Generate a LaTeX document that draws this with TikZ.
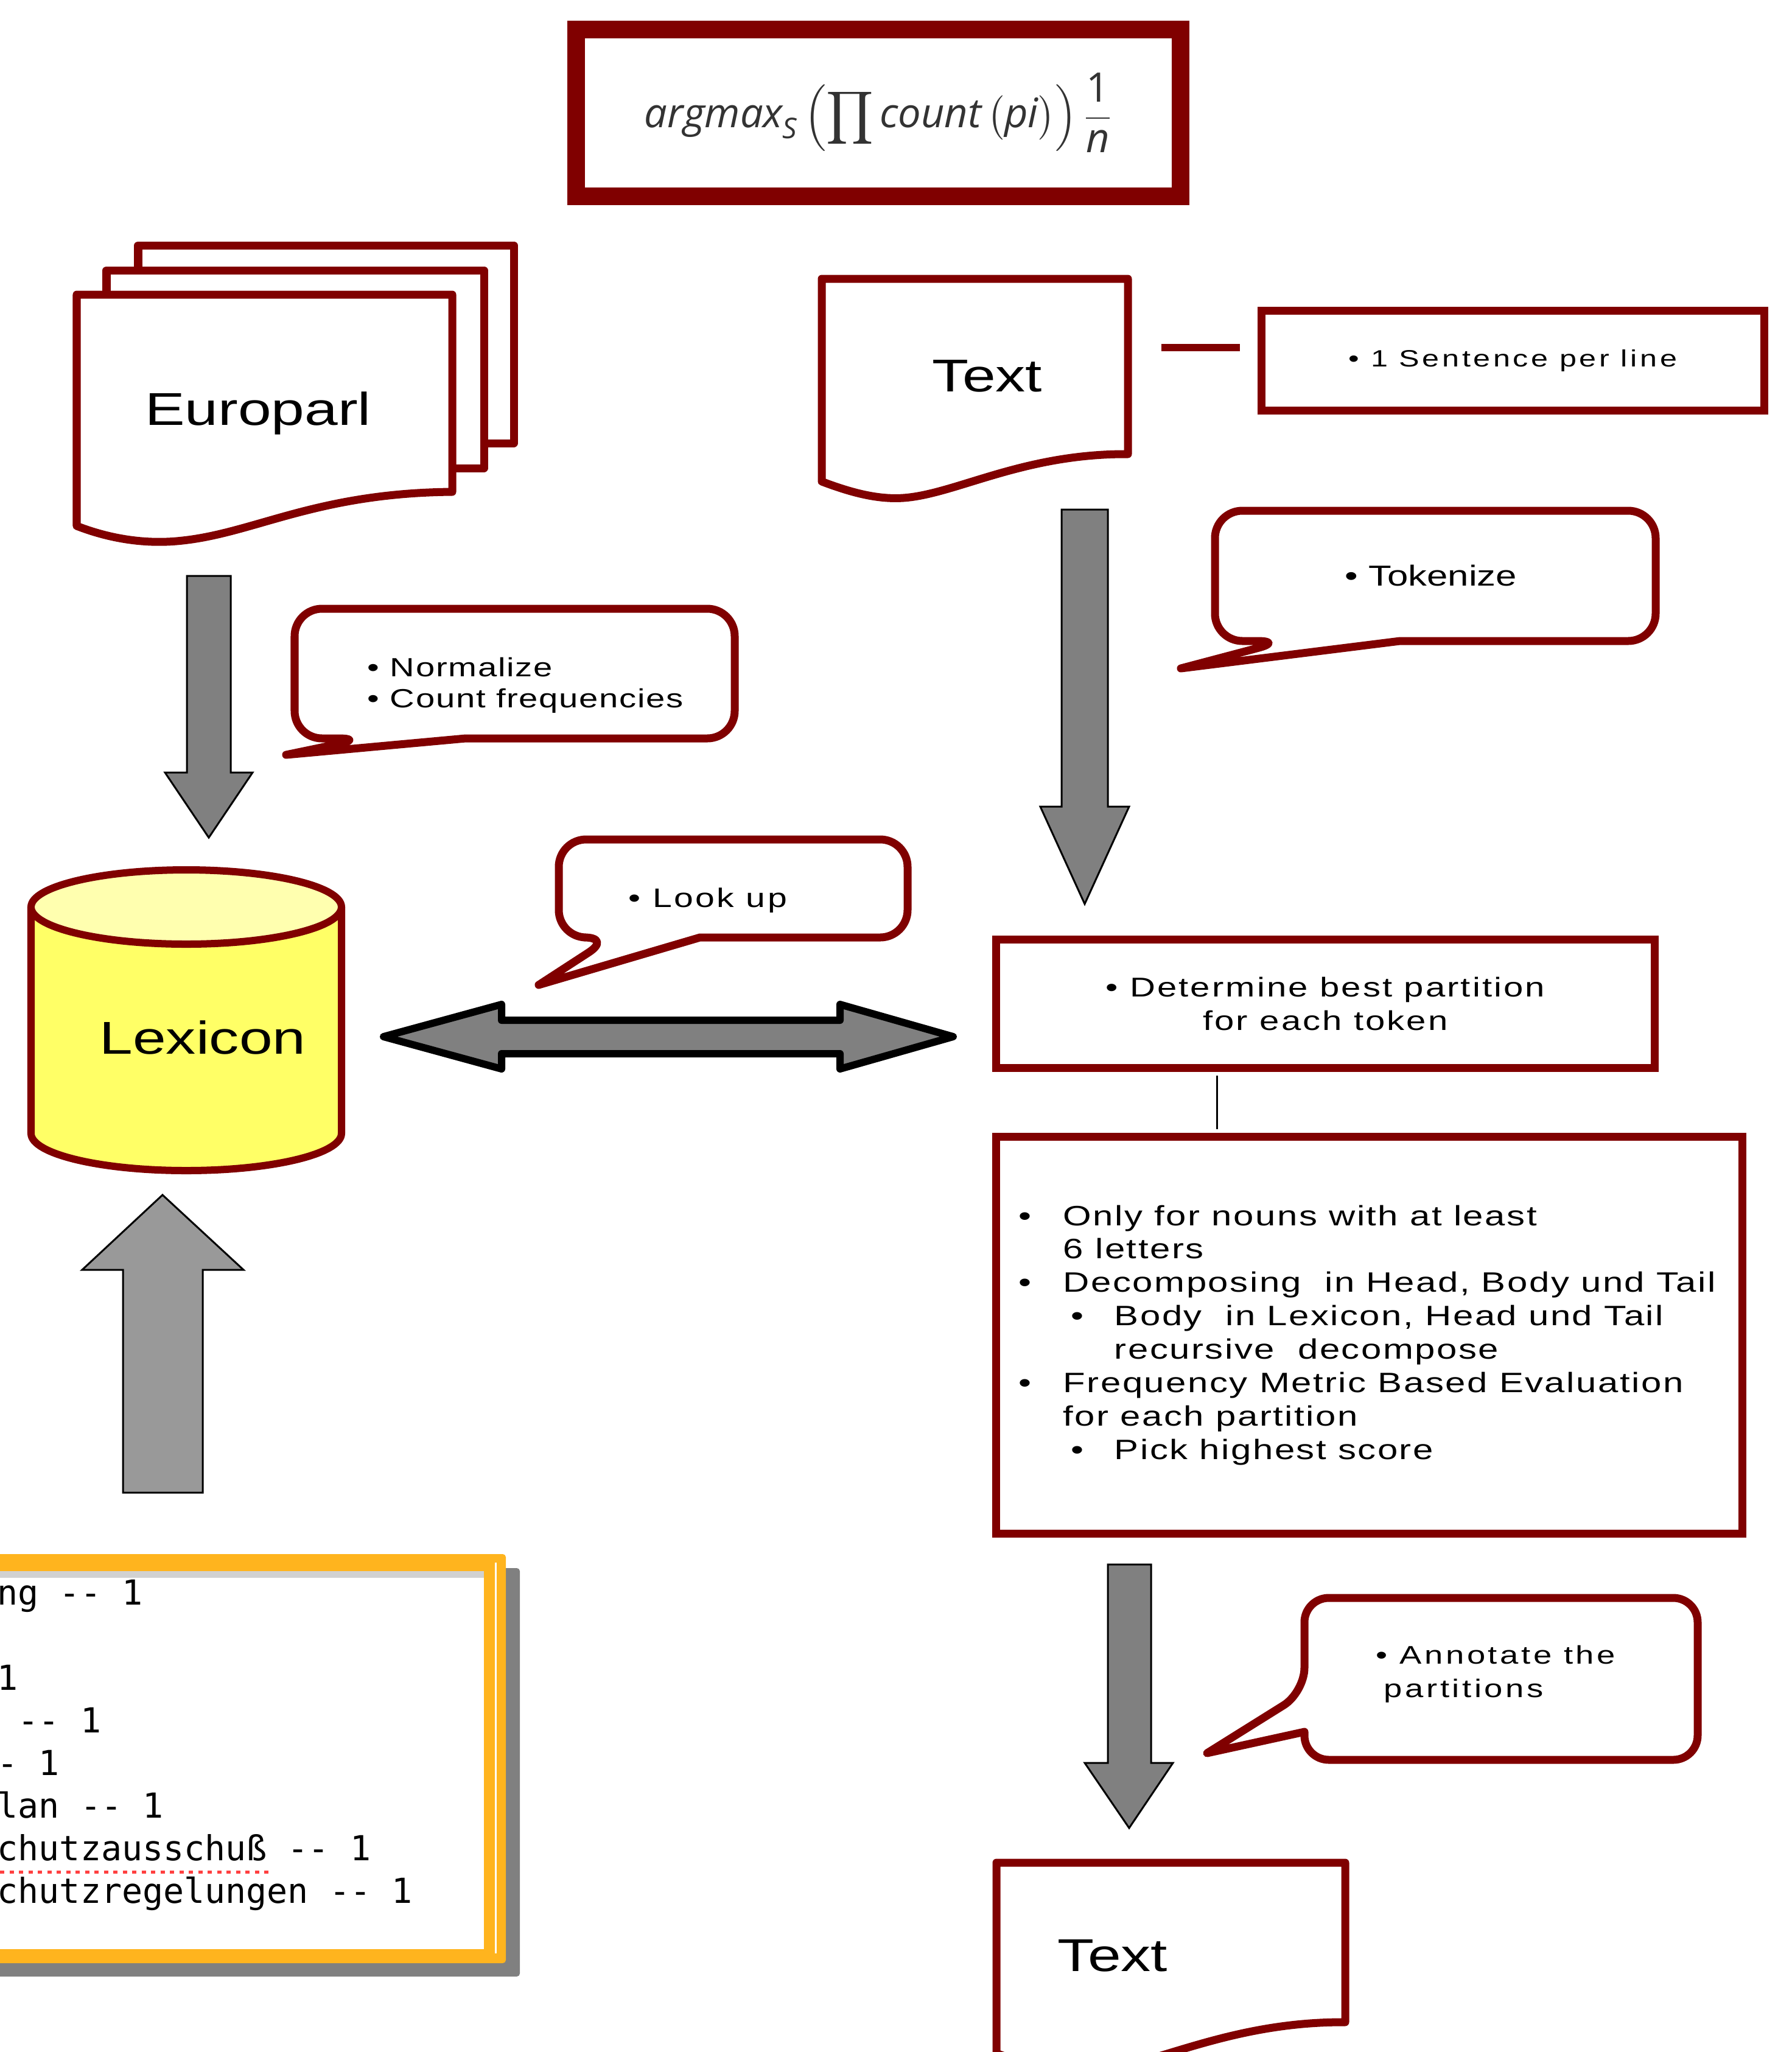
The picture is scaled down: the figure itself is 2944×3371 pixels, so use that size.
\documentclass[tikz,border=0pt]{standalone}
\usepackage{amsmath}
\usepackage{fontspec}
\usepackage{tikz}
\usetikzlibrary{calc}

\newfontfamily\labelfont{Liberation Sans}[FakeStretch=1.3]
\newfontfamily\notefont{Liberation Sans}[FakeStretch=1.3]
\newfontfamily\formulafont{Open Sans}
\setmonofont{DejaVu Sans Mono}

\definecolor{maroon}{RGB}{128,0,0}
\definecolor{arrowgray}{RGB}{128,128,128}
\definecolor{lightarrow}{RGB}{153,153,153}
\definecolor{lexyellow}{RGB}{255,255,102}
\definecolor{lextop}{RGB}{255,255,175}
\definecolor{frameorange}{RGB}{255,180,30}

% bullets for the rule list
\newcommand{\bul}{\makebox[0.73cm][l]{\textbullet}}
\newcommand{\subbul}{\hspace*{0.86cm}\makebox[0.71cm][l]{\textbullet}}

\begin{document}
\begin{tikzpicture}[
    x=0.01cm, y=-0.01cm,
    redline/.style={draw=maroon, line width=0.13cm, line join=round, fill=white},
    procbox/.style={draw=maroon, line width=0.13cm, fill=white, inner sep=0pt},
    bubble/.style={draw=maroon, line width=0.13cm, line join=round, fill=white},
    blockarrow/.style={draw=black, line width=0.03cm, fill=arrowgray},
    doclabel/.style={font=\labelfont\fontsize{21.5}{26}\selectfont, inner sep=0pt, anchor=base},
    note/.style={inner sep=0pt, anchor=base west, align=left}
  ]
  \useasboundingbox (0,0) rectangle (2944,3371);

  % scoring formula
  \node[procbox, line width=0.29cm, minimum width=9.93cm, minimum height=2.74cm,
        text=black!80, font=\formulafont\fontsize{19}{22}\selectfont] (formula) at (1443,185.5)
    {$\displaystyle \text{\itshape argmax}_{\text{\itshape S}}\left(\prod \text{\itshape count}\left(\text{\itshape pi}\right)\right)\frac{\text{1}}{\text{\itshape n}}$};

  % Europarl corpus (stack of pages)
  \draw[redline] (227,403) rectangle (844,728);
  \draw[redline] (175,444) rectangle (795,769);
  \draw[redline] (126,484) -- (743,484) -- (743,808)
      .. controls (520,810) and (420,875) .. (300,888)
      .. controls (240,895) and (180,885) .. (126,864) -- cycle;
  \node[doclabel] (europarl) at (424,698) {Europarl};

  % input text
  \draw[redline] (1350,458) -- (1853,458) -- (1853,746)
      .. controls (1680,745) and (1570,812) .. (1484,818)
      .. controls (1440,821) and (1395,808) .. (1350,791) -- cycle;
  \node[doclabel] (textin) at (1622,643) {Text};

  \node[procbox, minimum width=8.25cm, minimum height=1.63cm,
        font=\notefont\fontsize{11}{13}\selectfont\addfontfeatures{LetterSpace=12}] (sentence) at (2485.5,592.5)
    {\textbullet\ 1 Sentence per line};
  \coordinate (dashL) at (1908,571);
  \coordinate (dashR) at (2037,571);
  \draw[maroon, line width=0.12cm] (dashL) -- (dashR);

  % callouts (last line of each text sits on the node's base)
  \draw[bubble] (765,1213) [rounded corners=0.45cm] -- (1207,1213) -- (1207,1000) -- (484,1000)
      -- (484,1213) -- (600,1213) [sharp corners] -- (470,1240) -- cycle;
  \node[note, font=\notefont\fontsize{12.3}{14.5}\selectfont\addfontfeatures{LetterSpace=4}] (normalize) at (603,1162)
    {\textbullet\ Normalize\\\textbullet\ Count frequencies};

  \draw[bubble] (2300,1053) [rounded corners=0.45cm] -- (2720,1053) -- (2720,839) -- (1996,839)
      -- (1996,1053) -- (2110,1053) [sharp corners] -- (1940,1098) -- cycle;
  \node[note, font=\notefont\fontsize{13.5}{16}\selectfont] (tokenize) at (2209,962) {\textbullet\ Tokenize};

  \draw[bubble] (1150,1540) [rounded corners=0.45cm] -- (1491,1540) -- (1491,1379) -- (918,1379)
      -- (918,1540) -- (1005,1540) [sharp corners] -- (885,1618) -- cycle;
  \node[note, font=\notefont\fontsize{12.5}{15}\selectfont\addfontfeatures{LetterSpace=8}] (lookup) at (1032,1490) {\textbullet\ Look up};

  \draw[bubble] (2143,2845) [rounded corners=0.4cm] -- (2143,2891) -- (2789,2891) -- (2789,2625)
      -- (2143,2625) -- (2143,2780) [sharp corners] -- (1983,2880) -- cycle;
  \node[note, font=\notefont\fontsize{11.9}{15.4}\selectfont\addfontfeatures{LetterSpace=11}] (annotate) at (2260,2788)
    {\textbullet\ Annotate the\\\hspace*{0.13cm}partitions};

  % lexicon
  \fill[lexyellow] (51,1490) -- (51,1862) arc[start angle=180, end angle=0, x radius=255, y radius=61] -- (561,1490) -- cycle;
  \draw[maroon, line width=0.12cm] (51,1490) -- (51,1862) arc[start angle=180, end angle=0, x radius=255, y radius=61] -- (561,1490);
  \draw[maroon, line width=0.12cm, fill=lextop] (306,1490) ellipse [x radius=255, y radius=61];
  \node[doclabel] (lexicon) at (333,1731) {Lexicon};

  % block arrows
  \draw[blockarrow] (307,946) -- (379,946) -- (379,1269) -- (415,1269) -- (343,1376) -- (271,1269) -- (307,1269) -- cycle;
  \draw[blockarrow] (1744,837) -- (1820,837) -- (1820,1325) -- (1855,1325) -- (1782,1485) -- (1709,1325) -- (1744,1325) -- cycle;
  \draw[blockarrow] (1820,2570) -- (1891,2570) -- (1891,2896) -- (1927,2896) -- (1855,3003) -- (1782,2896) -- (1820,2896) -- cycle;
  \draw[blockarrow, fill=lightarrow] (202,2452) -- (202,2086) -- (135,2086) -- (267,1963) -- (400,2086) -- (333,2086) -- (333,2452) -- cycle;
  \draw[blockarrow, line width=0.12cm, line join=round] (630,1703) -- (824,1650) -- (824,1676) -- (1380,1676) -- (1380,1650)
      -- (1566,1703) -- (1380,1756) -- (1380,1731) -- (824,1731) -- (824,1756) -- cycle;

  % decomposition steps
  \node[procbox, minimum width=10.81cm, minimum height=2.10cm, align=center,
        font=\notefont\fontsize{12.7}{15.4}\selectfont\addfontfeatures{LetterSpace=7}] (best) at (2177.5,1649)
    {\textbullet\ Determine best partition\\for each token};
  \node[procbox, minimum width=12.25cm, minimum height=6.51cm] (rules) at (2249.5,2193.5) {};
  \node[note, font=\notefont\fontsize{13.1}{15.6}\selectfont\addfontfeatures{LetterSpace=5.5}] (rulestext) at (1673,2397) {%
    \bul Only for nouns with at least\\
    \hspace*{0.73cm}6 letters\\
    \bul Decomposing\ \ in Head, Body und Tail\\
    \subbul Body\ \ in Lexicon, Head und Tail\\
    \hspace*{1.57cm}recursive\ \ decompose\\
    \bul Frequency Metric Based Evaluation\\
    \hspace*{0.73cm}for each partition\\
    \subbul Pick highest score};
  \coordinate (joint) at (1999,1800);
  \draw[line width=0.03cm, shorten <=0.065cm, shorten >=0.065cm] (best.south -| joint) -- (rules.north -| joint);

  % annotated output
  \draw[redline] (1637,3060) -- (2210,3060) -- (2210,3322)
      .. controls (2015,3321) and (1890,3397) .. (1790,3403)
      .. controls (1740,3406) and (1690,3393) .. (1637,3373) -- cycle;
  \node[doclabel] (textout) at (1828,3238) {Text};

  % lexicon file window
  \fill[arrowgray, rounded corners=0.05cm] (-60,2576) rectangle (854,3247);
  \fill[frameorange, rounded corners=0.05cm] (-60,2553) rectangle (831,3225);
  \fill[white] (-60,2581) rectangle (795,3202);
  \fill[black!18] (-60,2581) rectangle (795,2592);
  \draw[white, line width=0.03cm] (814,2567) -- (814,3209);
  \node[note, font=\ttfamily\fontsize{16.1}{19.9}\selectfont] (lexfile) at (-5,3126) {%
    ng -- 1\\[0.7cm]
    1\\
    \hphantom{0}-- 1\\
    - 1\\
    lan -- 1\\
    chutzausschuß -- 1\\
    chutzregelungen -- 1};
  \draw[red!75, line width=0.05cm, dash pattern=on 0.07cm off 0.085cm] (0,3075) -- (442,3075);
\end{tikzpicture}
\end{document}
